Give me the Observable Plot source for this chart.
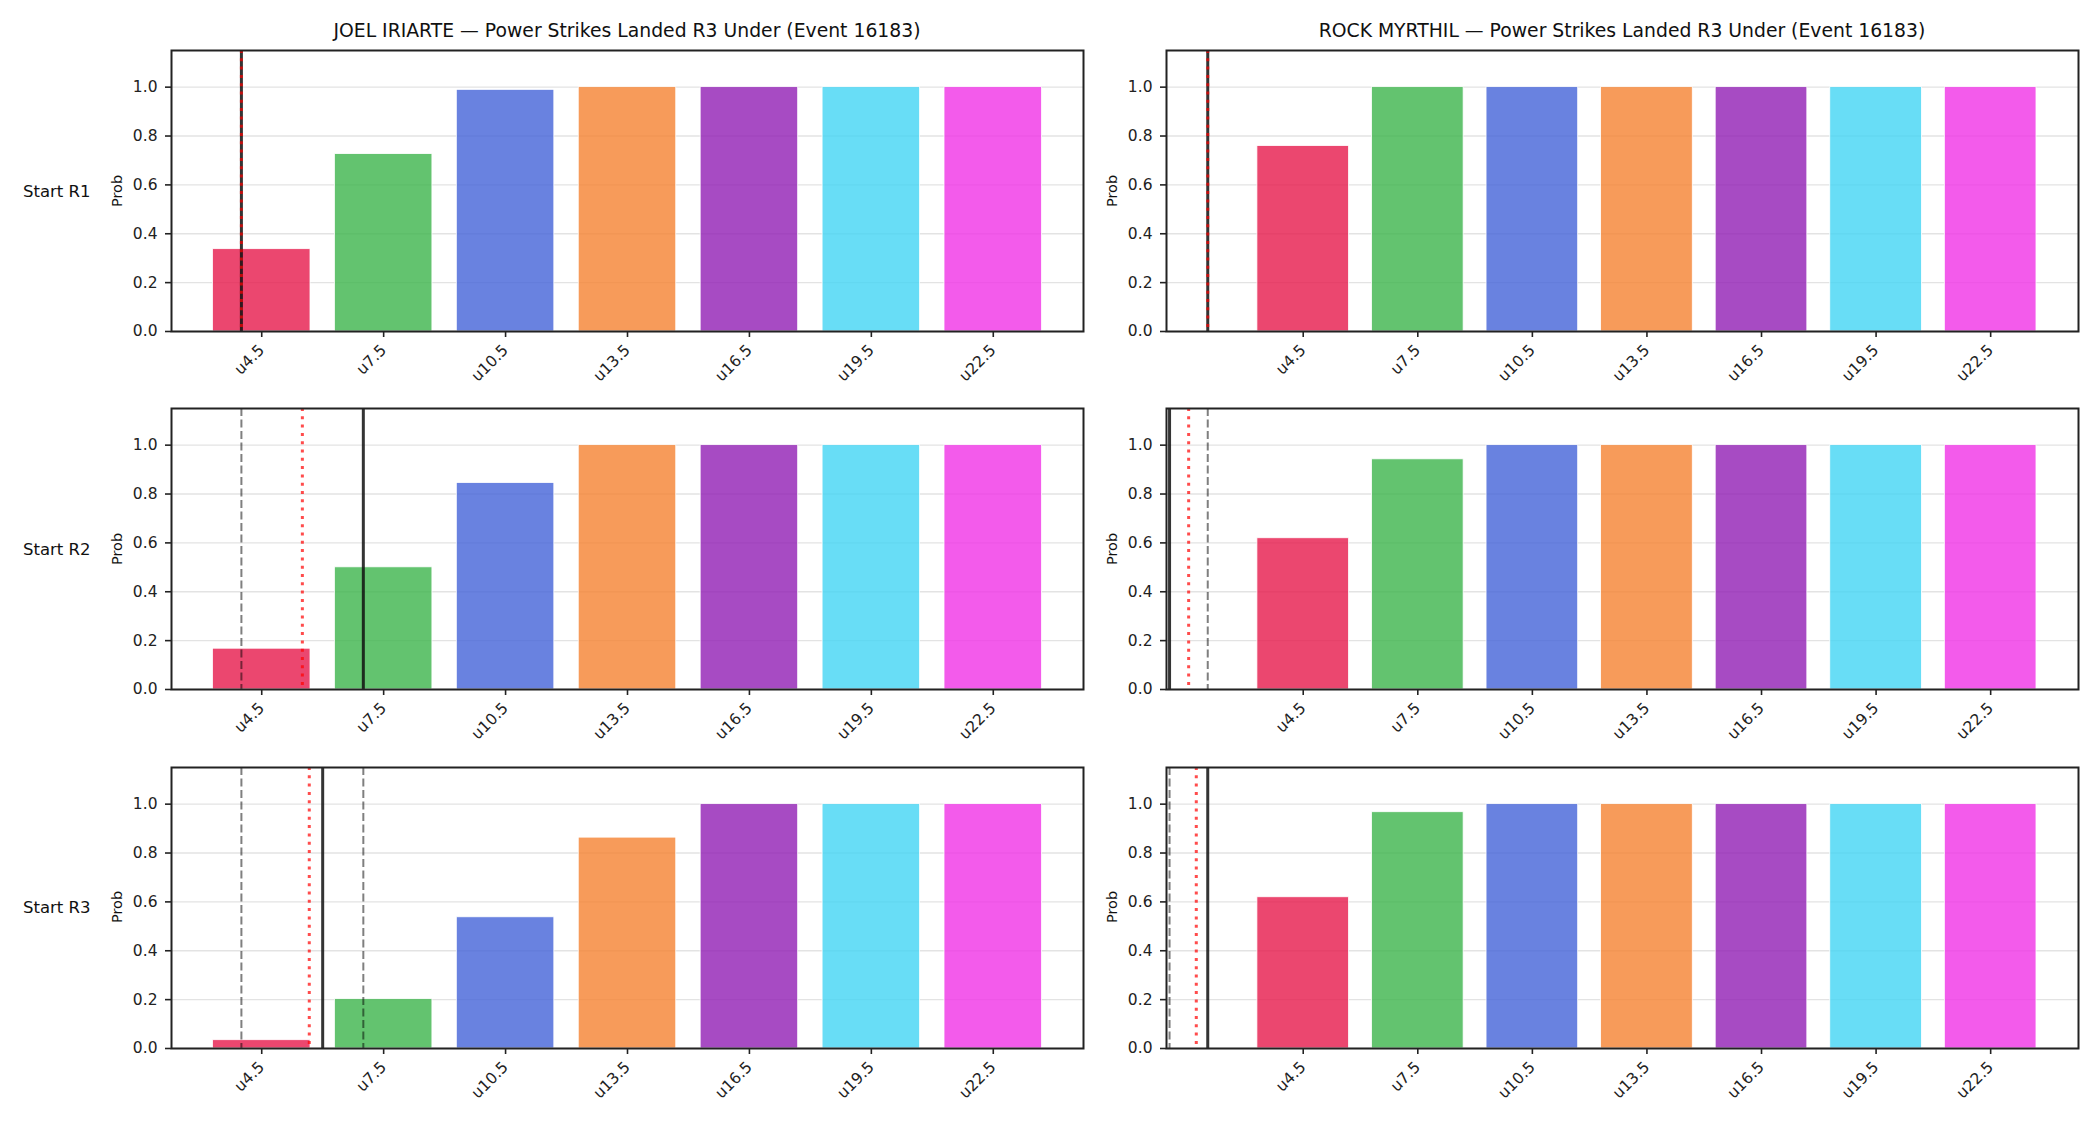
<!DOCTYPE html>
<html>
<head>
<meta charset="utf-8">
<script src="https://cdn.jsdelivr.net/npm/d3@7"></script>
<script src="https://cdn.jsdelivr.net/npm/@observablehq/plot@0.6"></script>
<style>
  html, body { margin: 0; padding: 0; background: #fff; }
  #fig { position: relative; width: 2100px; height: 1125px; background: #fff; overflow: hidden;
         font-family: "DejaVu Sans", sans-serif; color: #111; }
  .panel { position: absolute; }
  .title { position: absolute; font-size: 18.8px; white-space: nowrap; transform: translate(-50%, -50%); }
  .rowlab { position: absolute; font-size: 16.5px; white-space: nowrap; transform: translate(0, -50%); }
  .ylab { position: absolute; font-size: 14.5px; white-space: nowrap; transform: translate(-50%, -50%) rotate(-90deg); }
</style>
</head>
<body>
<div id="fig"></div>
<script>
// Under-line thresholds and their tick labels
const thresholds = [4.5, 7.5, 10.5, 13.5, 16.5, 19.5, 22.5];
const tickLabels = ["u4.5", "u7.5", "u10.5", "u13.5", "u16.5", "u19.5", "u22.5"];
const barColors = ["#e6194b", "#3cb44b", "#4363d8", "#f58231", "#911eb4", "#42d4f4", "#f032e6"];

const fighters = ["JOEL IRIARTE", "ROCK MYRTHIL"];
const market = "Power Strikes Landed R3 Under";
const eventId = 16183;
const startRows = ["Start R1", "Start R2", "Start R3"];

// P(under) per threshold, by starting round
const iriarteR1 = [0.337, 0.726, 0.989, 1.0, 1.0, 1.0, 1.0];
const iriarteR2 = [0.167, 0.500, 0.845, 1.0, 1.0, 1.0, 1.0];
const iriarteR3 = [0.034, 0.202, 0.537, 0.863, 1.0, 1.0, 1.0];
const myrthilR1 = [0.759, 1.0, 1.0, 1.0, 1.0, 1.0, 1.0];
const myrthilR2 = [0.619, 0.942, 1.0, 1.0, 1.0, 1.0, 1.0];
const myrthilR3 = [0.619, 0.967, 1.0, 1.0, 1.0, 1.0, 1.0];

// Reference markers per starting round
const iriarteSolid = [4.0, 7.0, 6.0];
const iriarteDotted = [4.0, 5.5, 5.67];
const iriarteDashed = [[], [4.0], [4.0, 7.0]];
const myrthilSolid = [2.0, 1.0, 2.0];
const myrthilDotted = [2.0, 1.5, 1.7];
const myrthilDashed = [[], [2.0], [1.0]];

// x extents per fighter column
const iriarteDomain = [2.28, 24.72];
const myrthilDomain = [0.92, 24.80];

const yTicks = [0, 0.2, 0.4, 0.6, 0.8, 1.0];

// layout
const BAR_W = 2.4;
const FRAME_W = 912, FRAME_H = 281;
const ML = 60, MR = 10, MT = 10, MB = 70;
const colLeft = [171, 1166];
const rowTop = [50, 408, 766.5];

const fig = document.getElementById("fig");

function panel(values, solid, dotted, dashed, domain) {
  const data = thresholds.map((t, i) => ({t, p: values[i], color: barColors[i]}));
  return Plot.plot({
    width: FRAME_W + ML + MR,
    height: FRAME_H + MT + MB,
    marginLeft: ML, marginRight: MR, marginTop: MT, marginBottom: MB,
    x: {type: "linear", domain},
    y: {domain: [0, 1.15]},
    color: {type: "identity"},
    style: {fontFamily: "DejaVu Sans", fontSize: "15.5px", color: "#222", background: "transparent", overflow: "visible"},
    marks: [
      Plot.gridY(yTicks, {stroke: "#e3e3e3", strokeOpacity: 1, strokeWidth: 1.3}),
      Plot.rectY(data, {x1: d => d.t - BAR_W / 2, x2: d => d.t + BAR_W / 2, y: "p",
                        fill: d => d.color, fillOpacity: 0.8, stroke: "white", strokeWidth: 0.8}),
      Plot.ruleX(dashed, {stroke: "#000", strokeOpacity: 0.5, strokeWidth: 2, strokeDasharray: "8,3.5"}),
      Plot.ruleX([solid], {stroke: "#111", strokeOpacity: 0.85, strokeWidth: 3}),
      Plot.ruleX([dotted], {stroke: "#ff0000", strokeOpacity: 0.7, strokeWidth: 3, strokeDasharray: "3,5.3"}),
      Plot.axisY({ticks: yTicks, tickFormat: d3.format(".1f"), tickSize: 6, tickPadding: 8, label: null, stroke: "#222", strokeWidth: 1.6}),
      Plot.axisX({ticks: thresholds, tickFormat: d => tickLabels[thresholds.indexOf(d)], tickRotate: -45,
                  tickSize: 6, tickPadding: 10, label: null, stroke: "#222", strokeWidth: 1.6}),
      Plot.frame({stroke: "#222", strokeWidth: 2})
    ]
  });
}

const cols = [
  {values: [iriarteR1, iriarteR2, iriarteR3], solid: iriarteSolid, dotted: iriarteDotted, dashed: iriarteDashed, domain: iriarteDomain},
  {values: [myrthilR1, myrthilR2, myrthilR3], solid: myrthilSolid, dotted: myrthilDotted, dashed: myrthilDashed, domain: myrthilDomain}
];

cols.forEach((c, ci) => {
  const title = document.createElement("div");
  title.className = "title";
  title.textContent = `${fighters[ci]} — ${market} (Event ${eventId})`;
  title.style.left = (colLeft[ci] + FRAME_W / 2) + "px";
  title.style.top = "30px";
  fig.appendChild(title);

  startRows.forEach((r, ri) => {
    const svg = panel(c.values[ri], c.solid[ri], c.dotted[ri], c.dashed[ri], c.domain);
    const holder = document.createElement("div");
    holder.className = "panel";
    holder.style.left = (colLeft[ci] - ML) + "px";
    holder.style.top = (rowTop[ri] - MT) + "px";
    holder.appendChild(svg);
    fig.appendChild(holder);

    const yl = document.createElement("div");
    yl.className = "ylab";
    yl.textContent = "Prob";
    yl.style.left = (colLeft[ci] - 54) + "px";
    yl.style.top = (rowTop[ri] + FRAME_H / 2) + "px";
    fig.appendChild(yl);

    if (ci === 0) {
      const rl = document.createElement("div");
      rl.className = "rowlab";
      rl.textContent = r;
      rl.style.left = "23px";
      rl.style.top = (rowTop[ri] + FRAME_H / 2) + "px";
      fig.appendChild(rl);
    }
  });
});
</script>
</body>
</html>
